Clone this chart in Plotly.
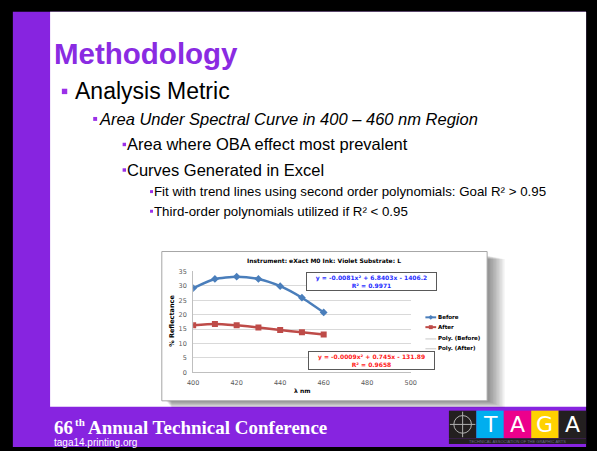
import plotly.graph_objects as go

W, H = 597, 451

# ---- data ----
wavelength_nm = [400, 410, 420, 430, 440, 450, 460]
before_reflectance = [29.2, 32.4, 33.2, 32.4, 29.9, 25.9, 20.8]
after_reflectance = [16.3, 16.8, 16.3, 15.6, 14.7, 13.9, 13.1]
x_ticks = [400, 420, 440, 460, 480, 500]
y_ticks = [0, 5, 10, 15, 20, 25, 30, 35]
series_names = ["Before", "After", "Poly. (Before)", "Poly. (After)"]
eq_before = ["y = -0.0081x² + 6.8403x - 1406.2", "R² = 0.9971"]
eq_after = ["y = -0.0009x² + 0.745x - 131.89", "R² = 0.9658"]
chart_title = "Instrument: eXact M0 Ink: Violet Substrate: L"
slide_title = "Methodology"
bullets = [
    ("Analysis Metric", 1),
    ("Area Under Spectral Curve in 400 – 460 nm Region", 2),
    ("Area where OBA effect most prevalent", 3),
    ("Curves Generated in Excel", 3),
    ("Fit with trend lines using second order polynomials: Goal R² > 0.95", 4),
    ("Third-order polynomials utilized if R² < 0.95", 4),
]
footer_num = "66"
footer_sup = "th"
footer_rest = "Annual Technical Conference"
footer_url = "taga14.printing.org"
logo_letters = ["", "T", "A", "G", "A"]

PURPLE = "#8724e0"
BLUE = "#4a7ebb"
RED = "#be4b48"


def px(x):
    return x / W


def py(y):
    return 1 - y / H


shapes = []


def rect(x0, y0, x1, y1, fill, line=None, lw=0, layer="below"):
    shapes.append(dict(type="rect", xref="paper", yref="paper",
                       x0=px(x0), x1=px(x1), y0=py(y1), y1=py(y0),
                       fillcolor=fill, layer=layer,
                       line=dict(color=line or "rgba(0,0,0,0)", width=lw)))


def seg(x0, y0, x1, y1, color, width=1, layer="above"):
    shapes.append(dict(type="line", xref="paper", yref="paper",
                       x0=px(x0), x1=px(x1), y0=py(y0), y1=py(y1), layer=layer,
                       line=dict(color=color, width=width)))


annotations = []


def text(x, y, s, size, color="#000", family="Liberation Sans, Arial", anchor="left",
         bold=False, italic=False, **kw):
    if bold:
        s = "<b>" + s + "</b>"
    if italic:
        s = "<i>" + s + "</i>"
    d = dict(x=px(x), y=py(y), xref="paper", yref="paper", xanchor=anchor,
             yanchor="middle", showarrow=False, text=s, borderpad=0,
             font=dict(size=size, color=color, family=family))
    d.update(kw)
    annotations.append(d)


# ---- slide background ----
rect(0, 0, W, H, "#000000")
rect(7, 8, W - 5, H, PURPLE)
rect(45, 8, W - 5, 410, "#ffffff")

# title and bullets
text(48, 50, slide_title, 29.5, color="#8a2be2", bold=True)
bullet_cfg = {1: (57, 5.5, 69, 23), 2: (89, 4, 94, 16.5),
              3: (119, 3.5, 122.5, 16.5), 4: (147, 3, 150.5, 13.3)}
ys = [89, 117, 143, 169, 191, 211]
for (label, lvl), yc in zip(bullets, ys):
    bx, bs, tx, fs = bullet_cfg[lvl]
    rect(bx, yc - bs / 2, bx + bs, yc + bs / 2, "#9b30e8")
    text(tx, yc, label, fs, italic=(lvl == 2))

# ---- chart box with shadow ----
for k in range(1, 13):
    rect(163 + k * 0.5, 256 + k * 0.3, 491 + k * 1.5, 404 + k * 0.6, "rgba(0,0,0,0.045)")
rect(159, 252, 491, 404, "#ffffff", line="#a6a6a6", lw=1)

# ---- footer ----
SERIF = "Liberation Serif, Times New Roman"
text(48, 431, footer_num, 19, color="#ffffff", family=SERIF, bold=True)
text(69, 426, footer_sup, 11, color="#ffffff", family=SERIF, bold=True)
text(83, 431, footer_rest, 19, color="#ffffff", family=SERIF, bold=True)
text(48, 446, footer_url, 10, color="#ffffff")
logo_colors = ["#231f20", "#00aeef", "#ec008c", "#ffd200", "#231f20"]
for i, (c, l) in enumerate(zip(logo_colors, logo_letters)):
    rect(452 + 28 * i, 414, 480 + 28 * i, 442, c)
    if l:
        text(466 + 28 * i, 428, l, 22, color="#ffffff", anchor="center",
             family="DejaVu Sans ExtraLight, DejaVu Sans")
shapes.append(dict(type="circle", xref="paper", yref="paper", x0=px(457), x1=px(475),
                   y0=py(437), y1=py(419), line=dict(color="#b0b0b0", width=1)))
seg(453, 428, 479, 428, "#b0b0b0")
seg(466, 415, 466, 441, "#b0b0b0")
rect(452, 442, 592, 448, "#231f20")
text(522, 445, "TECHNICAL ASSOCIATION OF THE GRAPHIC ARTS", 4, color="#6c6c8c", anchor="center")

# ---- chart texts ----
CF = "DejaVu Sans, Verdana"
text(325, 261, chart_title, 6, bold=True, family=CF, anchor="center")
text(302, 393, "λ nm", 6, bold=True, family=CF, anchor="center")
text(170, 323, "% Reflectance", 6.5, bold=True, family=CF, anchor="center", textangle=-90)

annotations.append(dict(x=px(372.5), y=py(283), xref="paper", yref="paper",
                        xanchor="center", yanchor="middle", showarrow=False,
                        text="<b>" + "<br>".join(eq_before) + "</b>",
                        font=dict(size=6, color="#1f2dff", family=CF),
                        bgcolor="#ffffff", bordercolor="#595959", borderwidth=1,
                        borderpad=1, width=127, height=15))
annotations.append(dict(x=px(372.5), y=py(363), xref="paper", yref="paper",
                        xanchor="center", yanchor="middle", showarrow=False,
                        text="<b>" + "<br>".join(eq_after) + "</b>",
                        font=dict(size=6, color="#ff1a1a", family=CF),
                        bgcolor="#ffffff", bordercolor="#595959", borderwidth=1,
                        borderpad=1, width=123, height=15))

# ---- manual legend ----
leg_y = [319, 329, 341, 351]
leg_col = [BLUE, RED, "#c8c8c8", "#c8c8c8"]
leg_w = [2, 2, 1, 1]
for name, yy, c, w in zip(series_names, leg_y, leg_col, leg_w):
    seg(428, yy, 439, yy, c, w)
    text(440, yy, name, 5.5, bold=True, family=CF)
shapes.append(dict(type="path", xref="paper", yref="paper",
                   path="M {} {} L {} {} L {} {} L {} {} Z".format(
                       px(433.5), py(316.5), px(436), py(319), px(433.5), py(321.5), px(431), py(319)),
                   fillcolor=BLUE, line=dict(color=BLUE, width=0)))
rect(431.5, 327, 435.5, 331, RED, layer="above")

# ---- traces ----
fig = go.Figure()
fig.add_trace(go.Scatter(x=wavelength_nm, y=before_reflectance, name=series_names[0],
                         mode="lines+markers", line=dict(color=BLUE, width=2.5, shape="spline", smoothing=0.6),
                         marker=dict(symbol="diamond", size=6, color=BLUE)))
fig.add_trace(go.Scatter(x=wavelength_nm, y=after_reflectance, name=series_names[1],
                         mode="lines+markers", line=dict(color=RED, width=2.5, shape="spline", smoothing=0.6),
                         marker=dict(symbol="square", size=6, color=RED)))

fig.update_layout(
    width=W, height=H, margin=dict(l=0, r=0, t=0, b=0),
    paper_bgcolor="#000000", plot_bgcolor="#ffffff", showlegend=False,
    shapes=shapes, annotations=annotations,
    xaxis=dict(domain=[px(191), px(413)], range=[400, 500], tickvals=x_ticks,
               showgrid=False, zeroline=False, showline=True, linecolor="#bfbfbf",
               ticks="outside", ticklen=4, tickcolor="rgba(0,0,0,0)",
               tickfont=dict(size=6.5, color="#595959", family=CF)),
    yaxis=dict(domain=[py(375), py(272.3)], range=[0, 35], tickvals=y_ticks,
               showgrid=True, gridcolor="#d9d9d9", gridwidth=1, zeroline=False,
               showline=True, linecolor="#bfbfbf",
               ticks="outside", ticklen=4, tickcolor="rgba(0,0,0,0)",
               tickfont=dict(size=6.5, color="#595959", family=CF)),
)

fig.write_html("out.html", config={"displayModeBar": False},
               post_script="document.body.style.margin='0';document.body.style.overflow='hidden';")
